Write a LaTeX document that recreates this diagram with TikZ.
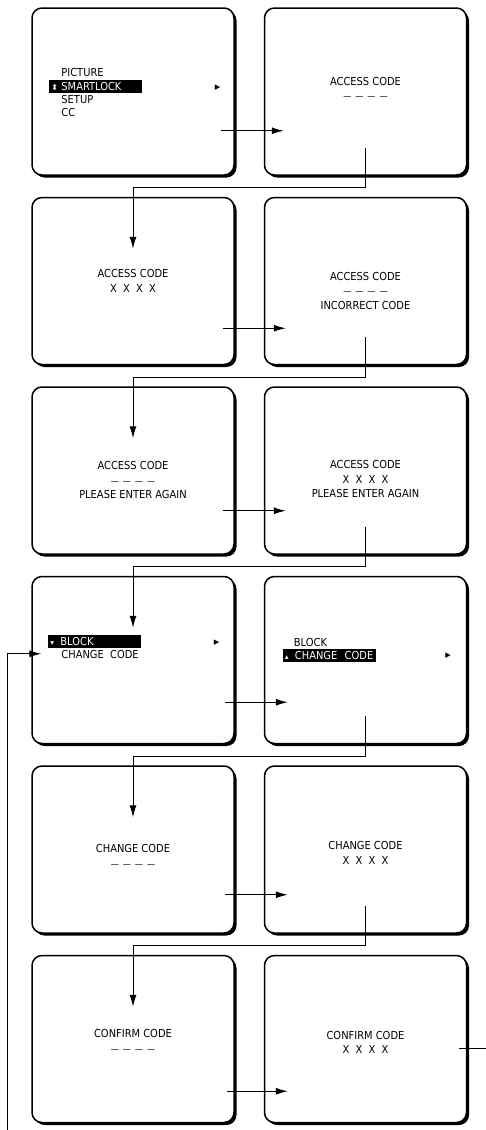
\documentclass[tikz,border=0pt]{standalone}
\usepackage{fontspec}
\setmainfont{DejaVu Sans Condensed}
\newfontfamily\symfont{DejaVu Sans}
\usepackage{tikz}
\usetikzlibrary{arrows.meta,positioning,shadows,calc}

\newcommand{\codeblank}{{\fontsize{9}{9}\selectfont —\hspace{4pt}—\hspace{4pt}—\hspace{4pt}—}}

\begin{document}
\begin{tikzpicture}[
x=1pt, y=1pt,
node distance=21pt and 29pt,
screen/.style={draw, line width=1.5pt, rounded corners=10pt, fill=white, minimum width=202pt, minimum height=167pt, drop shadow={shadow xshift=2.5pt, shadow yshift=-2.5pt, fill=black, opacity=1}},
osd/.style={align=center, inner sep=0pt, font=\fontsize{11}{14.5}\selectfont},
item/.style={anchor=west, inner sep=0pt, font=\fontsize{11}{13}\selectfont},
sel/.style={anchor=west, fill=black, text=white, inner xsep=2pt, inner ysep=0pt, text width=89pt, minimum height=13pt, align=left, font=\fontsize{11}{13}\selectfont},
cursor/.style={inner sep=0pt, font=\symfont\fontsize{11}{11}\selectfont},
arr/.style={-{Latex[length=12pt,width=7pt]}, line width=1pt},
wire/.style={line width=1pt}
]
\useasboundingbox (0,0) rectangle (485,-1130);

\node[screen] (menu) at (133,-91.5) {};
\node[screen, right=of menu] (access) {};
\node[screen, below=of menu] (entered) {};
\node[screen, right=of entered] (wrong) {};
\node[screen, below=of entered] (retry) {};
\node[screen, right=of retry] (again) {};
\node[screen, below=of retry] (blockmenu) {};
\node[screen, right=of blockmenu] (changemenu) {};
\node[screen, below=of blockmenu] (newcode) {};
\node[screen, right=of newcode] (newentered) {};
\node[screen, below=of newcode] (confirm) {};
\node[screen, right=of confirm] (confirmed) {};

% main menu
\node[item] (picture) at ($(menu.north west)+(30,-65.5)$) {PICTURE};
\node[sel] (smartlock) at ($(menu.north west)+(18,-79.5)$) {\makebox[10pt][l]{\symfont\fontsize{8}{8}\selectfont ⬍}SMARTLOCK};
\node[item] (setup) at ($(menu.north west)+(30,-92)$) {SETUP};
\node[item] (cc) at ($(menu.north west)+(30,-105)$) {CC};
\node[cursor] (menucur) at ($(menu.north east)+(-17,-80)$) {▸};

% code screens
\node[osd] (t1) at ([yshift=3pt]access.center) {ACCESS CODE\\\codeblank};
\node[osd] (t2) at (entered.center) {ACCESS CODE\\X~~X~~X~~X};
\node[osd] (t3) at ([yshift=-9.5pt]wrong.center) {ACCESS CODE\\\codeblank\\INCORRECT CODE};
\node[osd] (t4) at ([yshift=-9.5pt]retry.center) {ACCESS CODE\\\codeblank\\PLEASE ENTER AGAIN};
\node[osd] (t5) at ([yshift=-8.5pt]again.center) {ACCESS CODE\\X~~X~~X~~X\\PLEASE ENTER AGAIN};

% smartlock menus
\node[sel] (block) at ($(blockmenu.north west)+(17,-66)$) {\makebox[10pt][l]{\symfont\fontsize{7.5}{7.5}\selectfont ▾}BLOCK};
\node[item] (change) at ($(blockmenu.north west)+(30,-79)$) {CHANGE~~CODE};
\node[cursor] (blockcur) at ($(blockmenu.north east)+(-18,-67)$) {▸};
\node[item] (block2) at ($(changemenu.north west)+(30,-67)$) {BLOCK};
\node[sel] (change2) at ($(changemenu.north west)+(19,-80)$) {\makebox[10pt][l]{\symfont\fontsize{7.5}{7.5}\selectfont ▴}CHANGE~~CODE};
\node[cursor] (changecur) at ($(changemenu.north east)+(-19,-80)$) {▸};

\node[osd] (t6) at ([yshift=-6.5pt]newcode.center) {CHANGE CODE\\\codeblank};
\node[osd] (t7) at ([yshift=-3.5pt]newentered.center) {CHANGE CODE\\X~~X~~X~~X};
\node[osd] (t8) at ([yshift=-2pt]confirm.center) {CONFIRM CODE\\\codeblank};
\node[osd] (t9) at ([yshift=-3.5pt]confirmed.center) {CONFIRM CODE\\X~~X~~X~~X};

% left to right
\draw[arr] ($(menu.south east)+(-14,45)$) -- ($(access.south west)+(20,45)$);
\draw[arr] ($(entered.south east)+(-12,37)$) -- ($(wrong.south west)+(22,37)$);
\draw[arr] ($(retry.south east)+(-12,44)$) -- ($(again.south west)+(22,44)$);
\draw[arr] ($(blockmenu.south east)+(-10,42)$) -- ($(changemenu.south west)+(24,42)$);
\draw[arr] ($(newcode.south east)+(-10,39)$) -- ($(newentered.south west)+(24,39)$);
\draw[arr] ($(confirm.south east)+(-8,32)$) -- ($(confirmed.south west)+(24,32)$);

% down to next row
\draw[arr] ($(access.south)+(0,28)$) |- ($(entered.north)+(0,9)$) -- ($(entered.north)+(0,-52)$);
\draw[arr] ($(wrong.south)+(0,28)$) |- ($(retry.north)+(0,9)$) -- ($(retry.north)+(0,-52)$);
\draw[arr] ($(again.south)+(0,28)$) |- ($(blockmenu.north)+(0,9)$) -- ($(blockmenu.north)+(0,-52)$);
\draw[arr] ($(changemenu.south)+(0,28)$) |- ($(newcode.north)+(0,9)$) -- ($(newcode.north)+(0,-52)$);
\draw[arr] ($(newentered.south)+(0,28)$) |- ($(confirm.north)+(0,9)$) -- ($(confirm.north)+(0,-52)$);

% loop back
\coordinate (loopin) at ($(confirm.south west)+(-24,-15)$);
\coordinate (loopout) at ($(confirmed.north east)+(19,-94)$);
\draw[arr] (loopin) |- ($(blockmenu.north west)+(10,-78)$);
\draw[wire] ($(confirmed.north east)+(-8,-94)$) -- (loopout);
\end{tikzpicture}
\end{document}
